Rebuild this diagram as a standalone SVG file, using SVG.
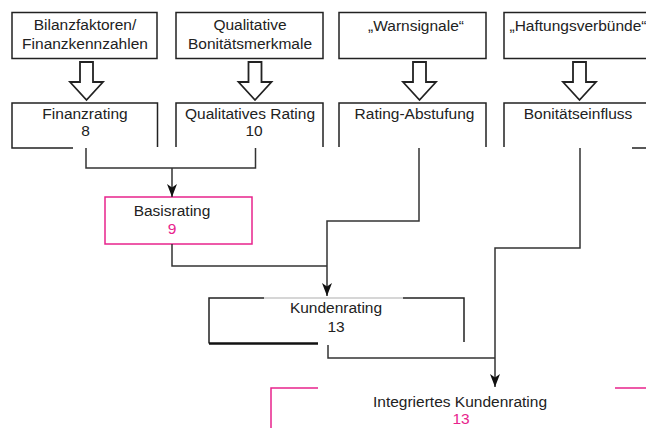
<svg xmlns="http://www.w3.org/2000/svg" width="646" height="428" viewBox="0 0 646 428">
<defs>
<style>
text{font-family:"Liberation Sans",Arial,sans-serif;font-size:15.5px;fill:#222;text-anchor:middle}
.pk{fill:#e8238c}
.box{fill:none;stroke:#222;stroke-width:1.5}
.pbox{fill:none;stroke:#e8238c;stroke-width:1.5}
.harrow{fill:#fff;stroke:#222;stroke-width:1.8;stroke-linejoin:miter}
.con{fill:none;stroke:#333;stroke-width:1.5}
</style>
<marker id="ah" viewBox="0 0 13 10" refX="13" refY="5" markerWidth="13" markerHeight="10" markerUnits="userSpaceOnUse" orient="auto">
<path d="M0,0 L13,5 L0,10 L3.5,5 z" fill="#111"/>
</marker>
<path id="hol" d="M-6.5,0 H6.5 V20 H16.5 L0,38 L-16.5,20 H-6.5 Z"/>
</defs>

<g id="bilanz"><rect class="box" x="12" y="12.5" width="145" height="46"/><text x="85" y="30">Bilanzfaktoren/</text><text x="85" y="49">Finanzkennzahlen</text></g>
<g id="qualitative"><rect class="box" x="176" y="12.5" width="147" height="46"/><text x="250" y="30">Qualitative</text><text x="250" y="49">Bonitätsmerkmale</text></g>
<g id="warnsignale"><rect class="box" x="339" y="12.5" width="147" height="46"/><text x="416" y="31">„Warnsignale“</text></g>
<g id="haftung"><path class="box" d="M647,12.5 H504 V58.5 H647"/><text x="578" y="31">„Haftungsverbünde“</text></g>

<g id="hollow-arrows">
<use href="#hol" class="harrow" transform="translate(86.5,62)"/>
<use href="#hol" class="harrow" transform="translate(255,62)"/>
<use href="#hol" class="harrow" transform="translate(419.5,62)"/>
<use href="#hol" class="harrow" transform="translate(579.5,62)"/>
</g>

<g id="finanzrating"><path class="box" d="M73,148 H12 V103 H157.5 V147"/><text x="85" y="119">Finanzrating</text><text x="85.5" y="136">8</text></g>
<g id="qualrating"><path class="box" d="M176,147 V103 H323 V147"/><text x="250" y="119">Qualitatives Rating</text><text x="254" y="136">10</text></g>
<g id="abstufung"><path class="box" d="M339,147 V103 H486 V147"/><text x="414.5" y="119">Rating-Abstufung</text></g>
<g id="bonitaet"><path class="box" d="M504,147 V103 H647 M632,148 H647"/><text x="578" y="119">Bonitätseinfluss</text></g>

<g id="basisrating"><rect class="pbox" x="105" y="197" width="147" height="47"/><text x="172" y="216">Basisrating</text><text class="pk" x="172" y="234">9</text></g>

<g id="kundenrating">
<path class="box" d="M264,298 H209 V343.5 M403,298 H464 V342"/>
<path d="M264,298 H403" stroke="#c8c8c8" stroke-width="1.5" fill="none"/>
<path d="M209,343.5 H318" stroke="#111" stroke-width="2.5" fill="none"/>
<text x="336" y="313">Kundenrating</text><text x="336" y="332">13</text>
</g>

<g id="integriert">
<path class="pbox" d="M318,388 H271 V429 M615,388 H647"/>
<text x="460" y="407">Integriertes Kundenrating</text><text class="pk" x="461" y="424">13</text>
</g>

<g id="connectors">
<path class="con" d="M86,148 V168 H255.5 V148"/>
<path class="con" d="M172,168 V197" marker-end="url(#ah)"/>
<path class="con" d="M419,148 V221 H327 V296" marker-end="url(#ah)"/>
<path class="con" d="M172,244 V266 H327"/>
<path class="con" d="M580,148 V248 H495 V387" marker-end="url(#ah)"/>
<path class="con" d="M328,345 V358 H495"/>
</g>
</svg>
